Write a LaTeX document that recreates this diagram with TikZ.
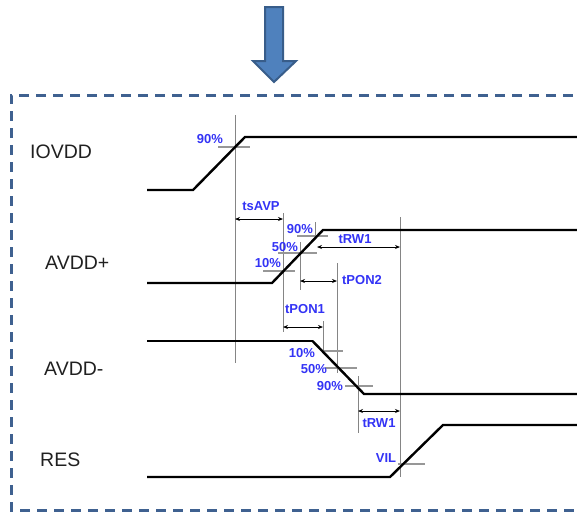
\documentclass[tikz,border=0pt]{standalone}
\usepackage{fontspec}
\setmainfont{Liberation Sans}
\usetikzlibrary{arrows.meta}
\definecolor{arrowfill}{HTML}{4F81BD}
\definecolor{arrowline}{HTML}{385D8A}
\definecolor{boxline}{HTML}{3F6190}
\definecolor{lblblue}{HTML}{3333F5}
\definecolor{guide}{HTML}{858585}
\definecolor{sigtext}{HTML}{202020}
\tikzset{
  sig/.style={line width=2.4pt, black, line join=miter},
  sigthin/.style={line width=1.3pt, black},
  vguide/.style={line width=0.9pt, guide},
  hmark/.style={line width=1.4pt, guide!85},
  dim/.style={line width=0.9pt, black, {Stealth[length=5pt,width=4pt]}-{Stealth[length=5pt,width=4pt]}},
  pct/.style={text=lblblue, font=\fontsize{13}{13}\selectfont\bfseries, inner sep=0pt},
  siglabel/.style={text=sigtext, font=\fontsize{19.5}{19.5}\selectfont, anchor=west, inner sep=0pt},
}
\begin{document}
\begin{tikzpicture}[x=1pt,y=-1pt]
\useasboundingbox (0,0) rectangle (577,512);
% top arrow
\draw[arrowline, line width=2pt, fill=arrowfill, line join=miter]
  (265,7) -- (283,7) -- (283,61) -- (296,61) -- (274,82) -- (253,61) -- (265,61) -- cycle;
% dashed frame
\draw[boxline, line width=3pt, dash pattern=on 10pt off 7pt]
  (590,95) -- (11,95) -- (11,510) -- (590,510);
% signal labels
\node[siglabel] (lIOVDD) at (30,152) {IOVDD};
\node[siglabel] (lAVDDp) at (45,263) {AVDD+};
\node[siglabel] (lAVDDm) at (44,369) {AVDD-};
\node[siglabel] (lRES) at (40,460) {RES};
% guide verticals
\draw[vguide] (235,115) -- (235,363);
\draw[vguide] (283,213) -- (283,332);
\draw[vguide] (315,222) -- (315,237);
\draw[vguide] (300,242) -- (300,290);
\draw[vguide] (337,263) -- (337,373);
\draw[vguide] (323,321) -- (323,350);
\draw[vguide] (358,376) -- (358,433);
\draw[vguide] (400,217) -- (400,477);
% level marks
\draw[hmark] (218,147) -- (250,147);
\draw[hmark] (263,271) -- (295,271);
\draw[hmark] (278,253) -- (317,253);
\draw[hmark] (297,236) -- (328,236);
\draw[hmark] (322,351) -- (343,351);
\draw[hmark] (325,368) -- (357,368);
\draw[hmark] (345,386) -- (373,386);
\draw[hmark] (398,464) -- (425,464);
% waveforms
\draw[sig] (147,190) -- (193,190) -- (245,137) -- (590,137);
\draw[sig] (147,283) -- (272,283) -- (323,230) -- (590,230);
\draw[sigthin] (147,341) -- (313,341);
\draw[sig] (312.5,341) -- (364,394) -- (590,394);
\draw[sig] (147,477) -- (390,477) -- (443,425) -- (590,425);
% dimension arrows
\coordinate (a1) at (235,219); \coordinate (b1) at (283,219);
\draw[dim] (a1) -- (b1);
\coordinate (a2) at (317,247); \coordinate (b2) at (400,247);
\draw[dim] (a2) -- (b2);
\coordinate (a3) at (300,281); \coordinate (b3) at (337,281);
\draw[dim] (a3) -- (b3);
\coordinate (a4) at (283,327); \coordinate (b4) at (323,327);
\draw[dim] (a4) -- (b4);
\coordinate (a5) at (358,411); \coordinate (b5) at (400,411);
\draw[dim] (a5) -- (b5);
% blue labels
\node[pct] (p1) at (210,139) {90\%};
\node[pct] (t1) at (261,206) {tsAVP};
\node[pct] (p2) at (300,229) {90\%};
\node[pct] (p3) at (285,247) {50\%};
\node[pct] (p4) at (268,263) {10\%};
\node[pct] (t2) at (355,239) {tRW1};
\node[pct] (t3) at (362,280) {tPON2};
\node[pct] (t4) at (305,309) {tPON1};
\node[pct] (p5) at (302,353) {10\%};
\node[pct] (p6) at (314,369) {50\%};
\node[pct] (p7) at (330,386) {90\%};
\node[pct] (t5) at (379,423) {tRW1};
\node[pct] (v1) at (386,458) {VIL};
\end{tikzpicture}
\end{document}
